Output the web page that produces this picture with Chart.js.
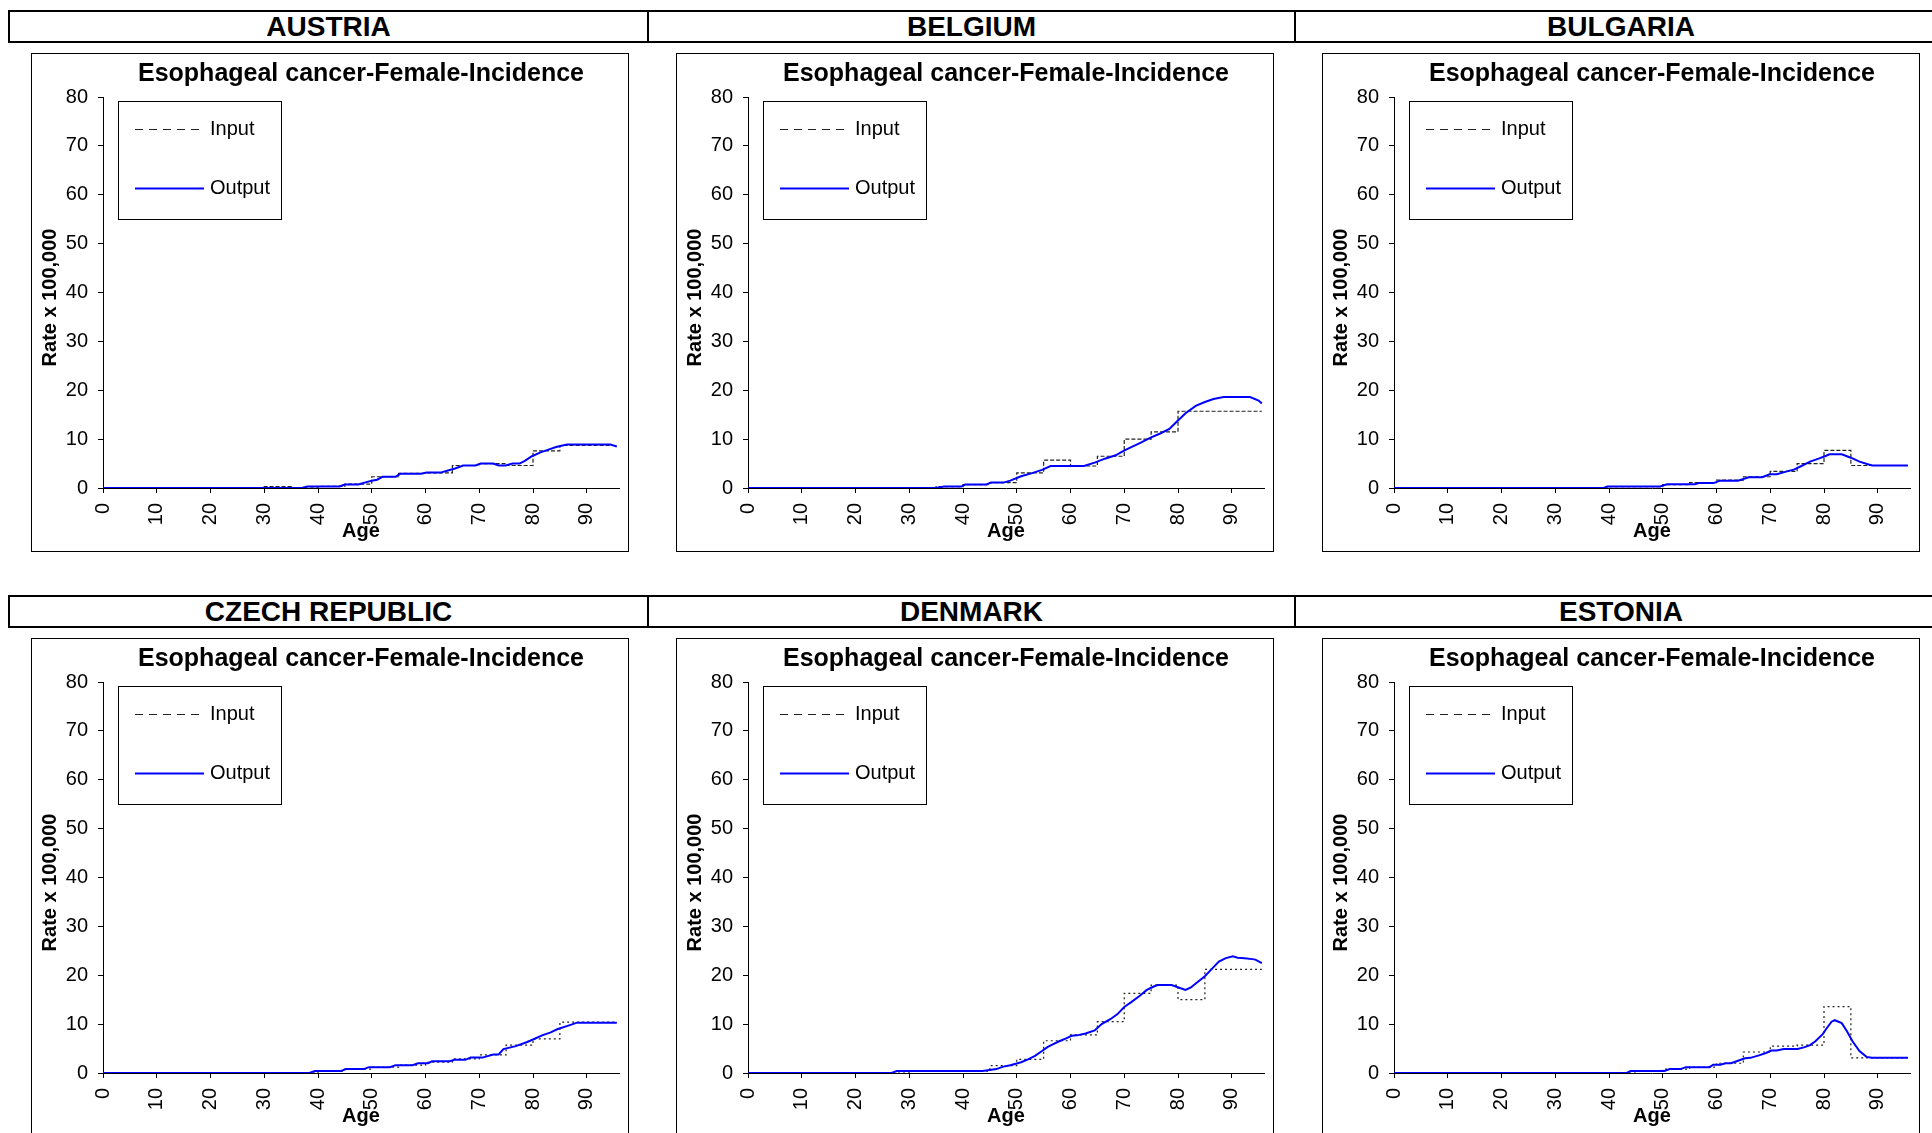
<!DOCTYPE html>
<html>
<head>
<meta charset="utf-8">
<script src="https://cdn.jsdelivr.net/npm/chart.js@4.4.0/dist/chart.umd.min.js"></script>
<style>
html,body{margin:0;padding:0;background:#fff;}
body{width:1932px;height:1133px;overflow:hidden;position:relative;font-family:'Liberation Sans',Arial,sans-serif;}
.hdr{position:absolute;box-sizing:border-box;height:33px;border:2px solid #000;font-weight:bold;font-size:28px;line-height:29px;text-align:center;color:#000;white-space:nowrap;}
.hdr.nl{border-left:none;}
.panel{position:absolute;width:598px;height:499px;}
.panel canvas{position:absolute;left:0;top:0;}
.frame{position:absolute;left:0;top:0;width:598px;height:499px;box-sizing:border-box;border:1px solid #000;pointer-events:none;}
</style>
</head>
<body>
<div id="root"></div>
<script>
// ---------------- DATA ----------------
const countries = ['AUSTRIA', 'BELGIUM', 'BULGARIA', 'CZECH REPUBLIC', 'DENMARK', 'ESTONIA'];
const chartTitle = 'Esophageal cancer-Female-Incidence';
const xAxisTitle = 'Age';
const yAxisTitle = 'Rate x 100,000';
const seriesNames = ['Input', 'Output'];
const xTicks = [0, 10, 20, 30, 40, 50, 60, 70, 80, 90];
const yTicks = [0, 10, 20, 30, 40, 50, 60, 70, 80];
// Input: rate per 5-year age group (group start ages), last group open-ended
const groupStartAges = [0, 5, 10, 15, 20, 25, 30, 35, 40, 45, 50, 55, 60, 65, 70, 75, 80, 85];
const lastAge = 95.6;

const austriaInput  = [0, 0, 0, 0, 0, 0, 0.3, 0, 0.35, 0.8, 2.3, 3.0, 3.1, 4.6, 5.0, 4.6, 7.6, 8.7];
const belgiumInput  = [0, 0, 0, 0, 0, 0, 0, 0.3, 0.7, 1.1, 3.1, 5.7, 4.5, 6.5, 10.0, 11.5, 15.7, 15.7];
const bulgariaInput = [0, 0, 0, 0, 0, 0, 0, 0, 0.3, 0.3, 0.7, 1.1, 1.6, 2.3, 3.4, 5.0, 7.7, 4.6];
const czechInput    = [0, 0, 0, 0, 0, 0, 0, 0, 0.4, 0.8, 1.2, 1.6, 2.2, 2.9, 3.7, 5.7, 7.0, 10.4];
const denmarkInput  = [0, 0, 0, 0, 0, 0, 0.4, 0.4, 0.4, 1.5, 2.8, 6.6, 7.8, 10.5, 16.3, 18.0, 15.0, 21.2];
const estoniaInput  = [0, 0, 0, 0, 0, 0, 0, 0, 0, 0.4, 0.8, 1.2, 2.0, 4.3, 5.5, 5.7, 13.6, 3.1];

// Output: [age, rate]
const austriaOutput = [[0,0],[37,0],[38,0.3],[44,0.3],[45,0.7],[47.5,0.7],[49,1.2],[50,1.5],[51,1.7],[52,2.3],[54.4,2.3],[55.3,2.9],[59.2,2.9],[60.2,3.15],[62.8,3.15],[64.5,3.7],[65.5,4.0],[67,4.6],[69.3,4.6],[70.3,5.0],[72.6,5.0],[73.6,4.6],[74.9,4.6],[76.2,5.0],[77.5,5.0],[78.4,5.5],[79.8,6.5],[81.4,7.3],[83,7.9],[84.3,8.4],[86.3,8.9],[94.4,8.9],[95.6,8.5]];
const belgiumOutput = [[0,0],[35,0],[36.5,0.3],[39.7,0.3],[40.4,0.7],[44.3,0.7],[45.2,1.1],[47.5,1.1],[48.8,1.5],[50.8,2.4],[52.7,3.0],[54.7,3.7],[56.3,4.5],[62.5,4.5],[64.5,5.2],[66.4,6.0],[68.4,6.7],[69.7,7.5],[71,8.2],[72.9,9.2],[74.9,10.3],[76.8,11.2],[78.4,12.1],[79.8,13.6],[81.4,15.3],[83.3,16.8],[85,17.6],[86.6,18.2],[88.5,18.6],[93.4,18.6],[95,17.9],[95.6,17.3]];
const bulgariaOutput = [[0,0],[39,0],[39.7,0.3],[49.5,0.3],[50.8,0.75],[56,0.75],[56.7,1.0],[59.4,1.0],[60.7,1.5],[64,1.5],[66,2.2],[68.5,2.2],[69.9,2.8],[71.2,2.8],[72.8,3.3],[74.5,3.8],[75.8,4.5],[77.4,5.4],[79,6.0],[80.4,6.6],[81,6.9],[83.3,6.9],[85,6.2],[86.6,5.4],[88.3,4.8],[89,4.6],[95.6,4.6]];
const czechOutput = [[0,0],[38.4,0],[39.4,0.4],[44.3,0.4],[45.2,0.8],[48.5,0.8],[49.5,1.2],[53.4,1.2],[54.4,1.6],[57.6,1.6],[58.6,2.0],[60.5,2.0],[61.2,2.4],[64.5,2.4],[65.4,2.7],[67.4,2.7],[68.4,3.15],[70.6,3.15],[72.6,3.8],[73.6,3.8],[74.5,4.9],[76.8,5.5],[78.8,6.3],[80.1,6.9],[81.7,7.7],[83.3,8.3],[84.6,9.0],[86.3,9.6],[88.2,10.3],[95.6,10.3]];
const denmarkOutput = [[0,0],[26.7,0],[27.7,0.4],[43.6,0.4],[44.3,0.5],[46.2,0.8],[47.5,1.3],[48.8,1.6],[50.8,2.2],[52.1,2.8],[53.4,3.5],[54.7,4.5],[55.7,5.3],[56.6,5.8],[57.9,6.5],[59.2,7.1],[60.2,7.6],[61.2,7.7],[62.8,8.1],[64.5,8.7],[65.8,10.0],[67.4,11.0],[68.7,12.0],[70,13.5],[71.3,14.5],[72.9,15.8],[74.2,17.0],[75.5,17.7],[76.2,18.0],[78.8,18.0],[80.1,17.5],[81.4,17.0],[82.4,17.5],[83.3,18.3],[85,19.8],[86.3,21.3],[87.6,22.8],[88.9,23.5],[90.2,23.9],[91.1,23.6],[92.4,23.5],[93.8,23.3],[94.4,23.2],[95.6,22.5]];
const estoniaOutput = [[0,0],[43.3,0],[44,0.4],[50.3,0.4],[51.3,0.8],[53.3,0.8],[54.3,1.2],[58.7,1.2],[59.4,1.7],[60.7,1.7],[61.7,2.0],[62.7,2.0],[64,2.5],[65.3,3.0],[66.3,3.1],[67.9,3.6],[69.2,4.1],[70.2,4.6],[71.2,4.6],[72.5,4.9],[75.1,4.9],[76.4,5.3],[77.4,5.7],[78.4,6.5],[79.8,8.0],[80.4,9.0],[81.4,10.5],[82,10.8],[83.3,10.2],[84.3,8.5],[85.3,6.5],[86.6,4.5],[87.9,3.3],[88.9,3.1],[95.6,3.1]];

const inputs  = [austriaInput, belgiumInput, bulgariaInput, czechInput, denmarkInput, estoniaInput];
const outputs = [austriaOutput, belgiumOutput, bulgariaOutput, czechOutput, denmarkOutput, estoniaOutput];

// ---------------- LAYOUT ----------------
const FONT = "'Liberation Sans', Arial, sans-serif";
Chart.defaults.font.family = FONT;
Chart.defaults.color = '#000';

const root = document.getElementById('root');
const colLeft = [31, 676, 1322];
const hdrCells = [[8, 641], [649, 647], [1296, 652]];
const rowTop = [0, 585];

const legendBox = {
  id: 'legendBox',
  afterDraw(chart) {
    const ctx = chart.ctx, a = chart.chartArea;
    const ds = chart.data.datasets;
    // y-axis title (slightly below the axis centre, as in the original)
    ctx.save();
    ctx.translate(19, (a.top + a.bottom) / 2 + 5);
    ctx.rotate(-Math.PI / 2);
    ctx.font = 'bold 20px ' + FONT;
    ctx.fillStyle = '#000';
    ctx.textAlign = 'center';
    ctx.textBaseline = 'middle';
    ctx.fillText(yAxisTitle, 0, 0);
    ctx.restore();

    const x0 = a.left + 15, y0 = a.top + 4, w = 163, h = 118;
    ctx.save();
    ctx.fillStyle = '#fff';
    ctx.fillRect(x0, y0, w, h);
    ctx.strokeStyle = '#000';
    ctx.lineWidth = 1;
    ctx.strokeRect(x0 + 0.5, y0 + 0.5, w, h);
    const items = [ds[1], ds[0]];
    items.forEach((d, i) => {
      const y = Math.round(a.top + 32 + i * 58.5) + 0.5;
      ctx.beginPath();
      ctx.setLineDash(i === 0 ? [8, 6] : []);
      ctx.strokeStyle = d.borderColor;
      ctx.lineWidth = i === 0 ? 1 : 2;
      ctx.moveTo(a.left + 32, y);
      ctx.lineTo(a.left + 101, y);
      ctx.stroke();
      ctx.setLineDash([]);
      ctx.fillStyle = '#000';
      ctx.font = '20px ' + FONT;
      ctx.textBaseline = 'middle';
      ctx.textAlign = 'left';
      ctx.fillText(d.label, a.left + 107, y);
    });
    ctx.restore();
  }
};

countries.forEach((name, idx) => {
  const r = Math.floor(idx / 3), c = idx % 3;
  const h = document.createElement('div');
  h.className = 'hdr' + (c > 0 ? ' nl' : '');
  h.style.left = hdrCells[c][0] + 'px';
  h.style.width = hdrCells[c][1] + 'px';
  h.style.top = (10 + rowTop[r]) + 'px';
  h.textContent = name;
  root.appendChild(h);

  const p = document.createElement('div');
  p.className = 'panel';
  p.style.left = colLeft[c] + 'px';
  p.style.top = (53 + rowTop[r]) + 'px';
  const cv = document.createElement('canvas');
  cv.width = 598; cv.height = 499;
  cv.style.width = '598px'; cv.style.height = '499px';
  p.appendChild(cv);
  const fr = document.createElement('div');
  fr.className = 'frame';
  p.appendChild(fr);
  root.appendChild(p);

  const inp = inputs[idx];
  const inputPts = groupStartAges.map((a, i) => ({x: a, y: inp[i]}));
  inputPts.push({x: lastAge, y: inp[inp.length - 1]});
  const outputPts = outputs[idx].map(([a, v]) => ({x: a, y: v}));

  new Chart(cv, {
    type: 'line',
    data: {
      datasets: [
        {label: seriesNames[1], data: outputPts, borderColor: '#0000ff', borderWidth: 2, pointRadius: 0, tension: 0, fill: false},
        {label: seriesNames[0], data: inputPts, borderColor: '#222', borderWidth: 1.2, borderDash: r === 0 ? [4, 2] : [2, 3], stepped: true, pointRadius: 0, fill: false}
      ]
    },
    options: {
      responsive: false,
      animation: false,
      devicePixelRatio: 1,
      events: [],
      layout: {padding: {left: 0, right: 10, top: 0, bottom: 0}},
      plugins: {
        legend: {display: false},
        tooltip: {enabled: false},
        title: {display: true, text: chartTitle, fullSize: false, color: '#000',
                font: {size: 25, weight: 'bold', family: FONT}, padding: {top: 6, bottom: 8}}
      },
      scales: {
        x: {
          type: 'linear', min: 0, max: 96,
          afterFit(s) { s.height = 64; },
          afterBuildTicks(s) { s.ticks = xTicks.map(v => ({value: v})); },
          ticks: {font: {size: 20, family: FONT}, color: '#000', minRotation: 90, maxRotation: 90,
                  autoSkip: false, padding: 10, includeBounds: false},
          grid: {display: true, drawOnChartArea: false, drawTicks: true, tickLength: 5, color: '#000', lineWidth: 1},
          border: {display: true, color: '#000', width: 1},
          title: {display: true, text: xAxisTitle, color: '#000', font: {size: 20, weight: 'bold', family: FONT},
                  padding: {top: 0, bottom: 9}}
        },
        y: {
          type: 'linear', min: 0, max: 80,
          afterFit(s) { s.width = 72; },
          afterBuildTicks(s) { s.ticks = yTicks.map(v => ({value: v})); },
          ticks: {font: {size: 20, family: FONT}, color: '#000', padding: 10},
          grid: {display: true, drawOnChartArea: false, drawTicks: true, tickLength: 5, color: '#000', lineWidth: 1},
          border: {display: true, color: '#000', width: 1},
          title: {display: false}
        }
      }
    },
    plugins: [legendBox]
  });
});
</script>
</body>
</html>
